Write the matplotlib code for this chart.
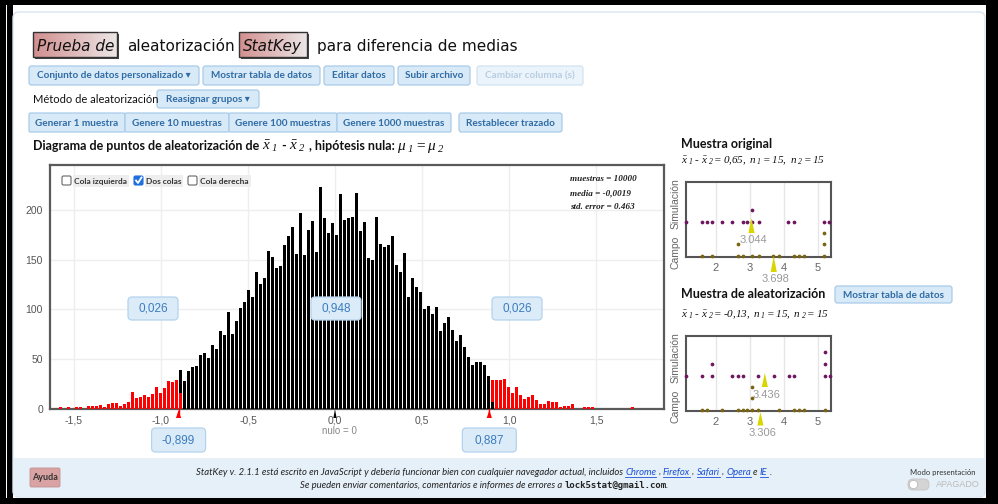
import numpy as np
import matplotlib.pyplot as plt
from matplotlib.colors import to_rgb
from matplotlib.patches import FancyBboxPatch, Rectangle, Polygon, Circle

NARROW = ['Liberation Sans Narrow', 'Lato', 'DejaVu Sans']
ARIAL = ['Liberation Sans', 'DejaVu Sans']
plt.rcParams['mathtext.fontset'] = 'custom'
plt.rcParams['mathtext.rm'] = 'Liberation Serif:italic'
plt.rcParams['mathtext.it'] = 'Liberation Serif:italic'
plt.rcParams['mathtext.bf'] = 'Liberation Serif:italic:bold'

# randomization distribution: dots per bin (bins of equal width from bin_start)
bin_start = -1.5805
bin_width = 0.023
dot_counts = [
    2, 0, 2, 0, 2, 2, 0, 3, 3, 3, 4, 2, 5, 6, 6, 3, 5, 7, 17, 11,
    12, 14, 12, 15, 22, 16, 21, 28, 27, 29, 39, 28, 38, 42,
    43, 54, 56, 51, 64, 60, 78, 74, 97, 75, 88, 101, 107, 119, 112, 137,
    125, 131, 159, 153, 141, 143, 165, 174, 183, 156, 197, 155, 180, 189, 158, 223,
    192, 177, 187, 175, 216, 190,
    192, 193, 217, 179, 188, 152, 150, 193, 166, 163, 165, 174, 144, 137, 157, 112,
    131, 122, 117, 100, 103, 95, 102, 78, 86, 92, 79, 68, 74, 62, 52, 44, 47, 47, 44, 33,
    29, 29, 29, 30, 22, 16, 22, 14, 10, 12, 14, 9, 5, 5, 8, 7, 7, 2, 3, 3, 5, 0, 0, 2, 2, 2,
    0, 0, 0, 0, 0, 0, 0, 0, 0, 2]
left_cut, right_cut = -0.899, 0.887
left_edge_red = 16     # red dots at the foot of the first bin past the left cut
right_edge_black = 7   # black dots at the foot of the first bin past the right cut
tail_props = ['0,026', '0,948', '0,026']
cut_labels = ['-0,899', '0,887']
summary = ['muestras = 10000', 'media = -0,0019', 'std. error = 0.463']
hist_xticks = [-1.5, -1.0, -0.5, 0.0, 0.5, 1.0, 1.5]
hist_xlabels = ['-1,5', '-1,0', '-0,5', '0,0', '0,5', '1,0', '1,5']
hist_yticks = [0, 50, 100, 150, 200]

# original sample (Simulación / Campo)
orig_sim = [1.11, 1.58, 1.73, 1.87, 2.19, 2.48, 2.78, 2.92, 3.07, 3.07, 3.25, 4.13, 4.28, 5.19, 5.33]
orig_campo = [1.58, 1.87, 2.64, 2.64, 2.78, 3.07, 3.25, 3.69, 3.84, 4.28, 4.43, 4.58, 5.19, 5.19, 5.19]
orig_means = [3.044, 3.698]
# last randomization sample
rand_sim = [1.11, 1.58, 1.89, 1.89, 2.48, 2.64, 2.78, 3.24, 3.70, 4.14, 4.29, 5.20, 5.20, 5.20, 5.36]
rand_campo = [1.58, 1.73, 2.19, 2.64, 2.78, 2.92, 3.06, 3.06, 3.06, 3.24, 3.86, 4.29, 4.43, 4.59, 5.20]
rand_means = [3.436, 3.306]
small_xticks = [2, 3, 4, 5]

W, H = 998, 504
fig = plt.figure(figsize=(W / 100, H / 100), dpi=100)
fig.patch.set_facecolor('black')
# page background underneath, interface layer on top of the charts
bg = fig.add_axes([0, 0, 1, 1], zorder=0)
ui = fig.add_axes([0, 0, 1, 1], zorder=5)
for a_ in (bg, ui):
    a_.axis('off')
    a_.set_xlim(0, W)
    a_.set_ylim(H, 0)
renderer = fig.canvas.get_renderer()


def px_axes(x0, y0, x1, y1):
    return fig.add_axes([x0 / W, 1 - y1 / H, (x1 - x0) / W, (y1 - y0) / H], zorder=1)


def rbox(x0, y0, x1, y1, fc, ec='none', lw=0.8, r=0.0, z=2, ax=None):
    ax = ax or ui
    if r:
        p = FancyBboxPatch((x0 + r, y0 + r), x1 - x0 - 2 * r, y1 - y0 - 2 * r,
                           boxstyle=f'round,pad={r}', fc=fc, ec=ec, lw=lw, zorder=z)
    else:
        p = Rectangle((x0, y0), x1 - x0, y1 - y0, fc=fc, ec=ec, lw=lw, zorder=z)
    ax.add_patch(p)
    return p


def grad(x0, y0, x1, y1, c0, c1, z=2):
    g = np.linspace(0, 1, 64)[None, :, None]
    img = (1 - g) * np.array(to_rgb(c0)) + g * np.array(to_rgb(c1))
    ui.imshow(img, extent=(x0, x1, y1, y0), aspect='auto', zorder=z, interpolation='bilinear')


def measure(s, **kw):
    t = ui.text(0, 0, s, **kw)
    w = t.get_window_extent(renderer).width
    t.remove()
    return w


def run_text(x, y, parts, ha='left', **common):
    """Lay out (string, style) pieces one after another on a baseline."""
    placed = []
    for s, kw in parts:
        style = {**common, **kw}
        lead = len(s) - len(s.lstrip(' '))
        trail = len(s) - len(s.rstrip(' '))
        sp = measure('x x', **style) - measure('xx', **style) if (lead or trail) else 0
        core = s.strip(' ')
        w = measure(core, **style) if core else 0
        placed.append((core, style, lead * sp, w, trail * sp))
    total = sum(a + b + c for _, _, a, b, c in placed)
    if ha == 'center':
        x -= total / 2
    out = []
    for core, style, a, w, c in placed:
        x += a
        if core:
            t = ui.text(x, y, core, ha='left', va='baseline', zorder=6, **style)
            out.append((t, x, w))
        x += w + c
    return out


def button(x0, y0, x1, y1, label, fg='#2f6ca5', fc='#d8e9f7', ec='#a9cbe9', size=7.2, r=2.5):
    rbox(x0, y0, x1, y1, fc, ec, lw=0.9, r=r, z=3)
    ui.text((x0 + x1) / 2, (y0 + y1) / 2 + 0.5, label, ha='center', va='center', color=fg,
            fontsize=size, fontweight='bold', family=NARROW, zorder=4)


# ---- page background ----
rbox(6, 5, 986, 498, 'white', z=0, ax=bg)
rbox(7, 5, 13, 498, 'black', z=0.5, ax=bg)
rbox(13, 12, 985, 497, 'white', ec='#dbe5ee', lw=1, r=6, z=1, ax=bg)
rbox(14, 458, 984, 496, '#e6f0f8', z=1.2, ax=bg)

# ---- page title ----
rbox(35, 34, 119, 59, '#444444', z=1.5)
grad(33, 32, 117, 57, '#d28f8f', '#ece6e6')
rbox(33, 32, 117, 57, 'none', '#333333', lw=1.0, z=2.5)
rbox(241, 34, 309, 59, '#444444', z=1.5)
grad(239, 32, 307, 57, '#d28f8f', '#ece6e6')
rbox(239, 32, 307, 57, 'none', '#333333', lw=1.0, z=2.5)
ui.text(37, 51, 'Prueba de', fontsize=11, style='italic', color='#111111', family='DejaVu Sans', zorder=6)
ui.text(127, 51, 'aleatorización', fontsize=11, color='#111111', family='DejaVu Sans', zorder=6)
ui.text(243, 51, 'StatKey', fontsize=11, style='italic', color='#111111', family='DejaVu Sans', zorder=6)
ui.text(317, 51, 'para diferencia de medias', fontsize=11, color='#111111', family='DejaVu Sans', zorder=6)

# ---- control rows ----
button(29, 66, 199, 85, 'Conjunto de datos personalizado ▾')
button(203, 66, 320, 85, 'Mostrar tabla de datos')
button(324, 66, 394, 85, 'Editar datos')
button(398, 66, 470, 85, 'Subir archivo')
button(477, 66, 583, 85, 'Cambiar columna (s)', fg='#b7cde2', fc='#ecf4fb', ec='#d2e3f2')
ui.text(33, 99.5, 'Método de aleatorización', fontsize=8, color='#111111', family=NARROW, va='center', zorder=6)
button(157, 90, 259, 108, 'Reasignar grupos ▾')
button(29, 113, 125, 132, 'Generar 1 muestra', r=1.5)
button(125, 113, 229, 132, 'Genere 10 muestras', r=1.5)
button(229, 113, 337, 132, 'Genere 100 muestras', r=1.5)
button(337, 113, 451, 132, 'Genere 1000 muestras', r=1.5)
button(459, 113, 562, 132, 'Restablecer trazado')

# ---- dot plot title ----
bold_narrow = dict(fontsize=9, fontweight='bold', family=NARROW, color='#111111')
math = dict(fontsize=11, color='#111111')
run_text(33, 150, [
    ('Diagrama de puntos de aleatorización de ', bold_narrow),
    (r'$\bar{x}_{\ 1}$', math), (' - ', bold_narrow), (r'$\bar{x}_{\ 2}$', math),
    (' , hipótesis nula: ', bold_narrow),
    (r'$\mu_{\ 1} = \mu_{\ 2}$', math)])

# ---- randomization histogram ----
ax = px_axes(50, 165, 664, 409)
counts = np.array(dot_counts, dtype=float)
centers = bin_start + bin_width * np.arange(len(counts))
in_tail = (centers < left_cut) | (centers > right_cut)
red_h = np.where(in_tail, counts, 0.0)
black_h = counts - red_h
red_bottom = np.zeros_like(counts)
black_bottom = np.zeros_like(counts)
i_left = np.searchsorted(centers, left_cut)
i_right = np.searchsorted(centers, right_cut)
red_h[i_left] = left_edge_red
black_h[i_left] = counts[i_left] - left_edge_red
black_bottom[i_left] = left_edge_red
black_h[i_right] = right_edge_black
red_h[i_right] = counts[i_right] - right_edge_black
red_bottom[i_right] = right_edge_black

bw = bin_width * 0.75
ax.bar(centers, black_h, bottom=black_bottom, width=bw, color='black', zorder=3)
ax.bar(centers, red_h, bottom=red_bottom, width=bw, color='#ff0000', zorder=3)
ax.set_xlim(-1.638, 1.891)
ax.set_ylim(-0.5, 245.2)
ax.set_xticks(hist_xticks)
ax.set_xticklabels(hist_xlabels)
ax.set_yticks(hist_yticks)
ax.tick_params(length=0, labelsize=7.5, labelcolor='#555555', pad=5)
for lab in ax.get_xticklabels() + ax.get_yticklabels():
    lab.set_family(ARIAL)
ax.grid(True, color='#eeeeee', lw=1, zorder=0)
ax.set_axisbelow(True)
for sp in ax.spines.values():
    sp.set_color('#5a5a5a')
    sp.set_linewidth(1.6)


def hist_px(v):
    x0, x1 = ax.get_xlim()
    return 50 + (v - x0) / (x1 - x0) * 614


# tail checkboxes
cb_font = dict(fontsize=6.0, family=NARROW, fontweight='bold')
for bx, label, on in [(62, 'Cola izquierda', False), (134, 'Dos colas', True), (188, 'Cola derecha', False)]:
    if on:
        rbox(bx, 176, bx + 9, 185, '#1f6fde', '#1f6fde', lw=0.8, r=1.5, z=7)
        ui.plot([bx + 2, bx + 4, bx + 7.5], [180.5, 183, 177.5], color='white', lw=1.3, zorder=8)
    else:
        rbox(bx, 176, bx + 9, 185, 'white', '#666666', lw=0.8, r=1.5, z=7)
    w = measure(label, **cb_font)
    rbox(bx + 11, 175, bx + 14 + w, 187, '#eeeeee', z=6.5)
    ui.text(bx + 12.5, 181.5, label, color='#333333', va='center', zorder=8, **cb_font)

for i, line in enumerate(summary):
    ui.text(570, 179 + 14 * i, line, fontsize=6.6, family='Liberation Serif', style='italic',
            fontweight='bold', color='#222222', va='center', zorder=8)

# proportion boxes
for cx, s in zip([153, 336, 517], tail_props):
    rbox(cx - 25, 297, cx + 25, 320, '#dcebf8', '#b4d3ee', lw=0.9, r=4, z=7)
    ui.text(cx, 308.5, s, ha='center', va='center', fontsize=8.5, family=ARIAL, color='#3a7cc0', zorder=8)

# cut markers and values
for v, s, in zip([left_cut, right_cut], cut_labels):
    cx = hist_px(v)
    ui.add_patch(Polygon([(cx, 410), (cx - 2.6, 418), (cx + 2.6, 418)], closed=True, fc='#ff0000', ec='none', zorder=7))
    ui.plot([cx, cx], [409, 414], color='#ff0000', lw=1, zorder=7)
    rbox(cx - 27, 428, cx + 27, 452, '#dcebf8', '#b4d3ee', lw=0.9, r=4, z=7)
    ui.text(cx, 440.5, s, ha='center', va='center', fontsize=8.5, family=ARIAL, color='#3a7cc0', zorder=8)
zx = hist_px(0.0)
ui.add_patch(Polygon([(zx, 409), (zx - 1.6, 418), (zx + 1.6, 418)], closed=True, fc='black', ec='none', zorder=7))
ui.text(zx + 4, 431, 'nulo = 0', ha='center', va='center', fontsize=7, family=ARIAL, color='#888888', zorder=8)


# ---- small dot plots ----
def small_plot(y0, sim, campo, means, sim_mean_y, campo_mean_y):
    a = px_axes(686, y0, 831, y0 + 75)
    a.set_xlim(1.118, 5.382)
    a.set_ylim(0, 75)
    for vals, base, col in [(sim, 35.5, '#6e1660'), (campo, 1.0, '#7b6410')]:
        seen = {}
        ys = []
        for v in vals:
            k = seen.get(v, 0)
            seen[v] = k + 1
            ys.append(base + 11.7 * k)
        a.plot(vals, ys, 'o', ms=2.7, color=col, mec='none', clip_on=False, zorder=4)
    a.set_xticks(small_xticks)
    a.set_yticks([])
    a.tick_params(length=0, labelsize=8, labelcolor='#666666', pad=4)
    for lab in a.get_xticklabels():
        lab.set_family(ARIAL)
    a.grid(True, axis='x', color='#e6e6e6', lw=1, zorder=0)
    a.set_axisbelow(True)
    for sp in a.spines.values():
        sp.set_color('#555555')
        sp.set_linewidth(1.5)
    hw = 0.09
    for m, (tip, base, ty) in zip(means, [sim_mean_y, campo_mean_y]):
        a.add_patch(Polygon([(m, tip), (m - hw, base), (m + hw, base)], closed=True,
                            fc='#d9d500', ec='none', clip_on=False, zorder=5))
        a.text(m + 0.06, ty, f'{m:.3f}', ha='center', va='center', fontsize=8, family=ARIAL,
               color='#999999', zorder=6, clip_on=False)
    ui.text(676, y0 + 70, 'Campo', rotation=90, ha='center', va='center', fontsize=7.5,
            family=ARIAL, color='#666666', zorder=6)
    ui.text(676, y0 + 22, 'Simulación', rotation=90, ha='center', va='center', fontsize=7.5,
            family=ARIAL, color='#666666', zorder=6)
    return a


ui.text(681, 148, 'Muestra original', fontsize=9, fontweight='bold', family=NARROW, color='#111111', zorder=6)
sub = dict(fontsize=8, color='#111111')
run_text(681, 163, [(r'$\bar{x}_{\ 1}\ \text{-}\ \bar{x}_{\ 2} = 0{,}65,\ n_{\ 1} = 15,\ n_{\ 2} = 15$', sub)])
small_plot(182, orig_sim, orig_campo, orig_means, (39, 24, 17), (1, -15, -21.5))

ui.text(681, 298, 'Muestra de aleatorización', fontsize=9, fontweight='bold', family=NARROW, color='#111111', zorder=6)
button(835, 286, 952, 303, 'Mostrar tabla de datos')
run_text(681, 317, [(r'$\bar{x}_{\ 1}\ \text{-}\ \bar{x}_{\ 2} = \text{-}0{,}13,\ n_{\ 1} = 15,\ n_{\ 2} = 15$', sub)])
small_plot(336, rand_sim, rand_campo, rand_means, (38, 24, 16.5), (-1, -14.5, -22))

# ---- footer ----
rbox(30, 468, 60, 487, '#d9a3a3', '#c49090', lw=0.6, r=1.5, z=3)
ui.text(45, 478, 'Ayuda', ha='center', va='center', fontsize=6.5, fontweight='bold', family=NARROW,
        color='#333333', zorder=6)
foot = dict(fontsize=6.8, style='italic', family=NARROW, color='#222222')
link = dict(fontsize=6.8, style='italic', family=NARROW, color='#1a4fd6')
parts = [('StatKey v. 2.1.1 está escrito en JavaScript y debería funcionar bien con cualquier navegador actual, incluidos ', foot),
         ('Chrome', link), (' , ', foot), ('Firefox', link), (' , ', foot), ('Safari', link),
         (' , ', foot), ('Opera', link), (' e ', foot), ('IE', link), (' .', foot)]
placed = run_text(484, 475, parts, ha='center')
for (t, x, w), (s, kw) in zip(placed, [p for p in parts if p[0].strip()]):
    if kw is link:
        ui.plot([x, x + w], [476.5, 476.5], color='#1a4fd6', lw=0.6, zorder=6)
run_text(484, 488, [('Se pueden enviar comentarios, comentarios e informes de errores a ', foot),
                    ('lock5stat@gmail.com', dict(fontsize=6.5, family='DejaVu Sans Mono', fontweight='bold', color='#222222')),
                    ('.', foot)], ha='center')
ui.text(910, 475, 'Modo presentación', fontsize=5.5, family=NARROW, color='#333333', zorder=6)
rbox(908, 479, 929, 490, '#d4d4d4', '#c4c4c4', lw=0.6, r=5, z=5)
ui.add_patch(Circle((913.5, 484.5), 4.2, fc='white', ec='#bbbbbb', lw=0.6, zorder=6))
ui.text(936, 484.5, 'APAGADO', fontsize=6.5, family=ARIAL, color='#bbbbbb', va='center', zorder=6)

for a_ in (bg, ui):
    a_.set_xlim(0, W)
    a_.set_ylim(H, 0)
fig.savefig('out.png', dpi=100, facecolor=fig.get_facecolor())
